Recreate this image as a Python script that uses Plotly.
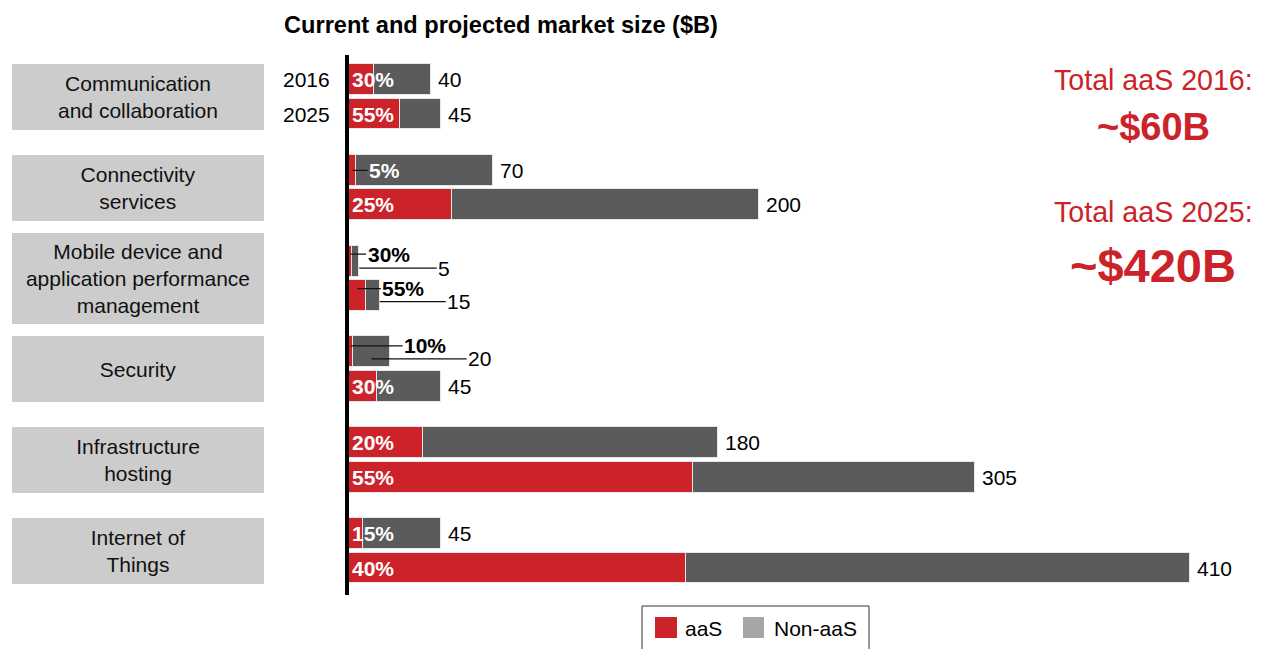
import plotly.graph_objects as go

# ---------------- data ----------------
categories = [
    "Communication<br>and collaboration",
    "Connectivity<br>services",
    "Mobile device and<br>application performance<br>management",
    "Security",
    "Infrastructure<br>hosting",
    "Internet of<br>Things",
]
years = ["2016", "2025"]
total_2016 = [40, 70, 5, 20, 180, 45]
total_2025 = [45, 200, 15, 45, 305, 410]
aas_pct_2016 = [30, 5, 30, 10, 20, 15]
aas_pct_2025 = [55, 25, 55, 30, 55, 40]
legend_labels = ["aaS", "Non-aaS"]
title_text = "Current and projected market size ($B)"
summary_texts = ["Total aaS 2016:", "~$60B", "Total aaS 2025:", "~$420B"]

# ---------------- style / layout ----------------
RED = "#cc2229"
DARK = "#5b5b5b"
LIGHT = "#a6a6a6"
BOX = "#cccccc"
FONT = "Arial, 'Liberation Sans', Helvetica, sans-serif"

W_FIG, H_FIG = 1267, 649
L, R, T, B = 349, 1262, 55, 595
PW, PH = R - L, B - T
XMAX = PW / 2.052
Y_TOP, Y_BOT = -0.270, 5.677
PAIR = 0.38
BAR_W = 0.34


def px(x):
    return (x - L) / PW


def py(y):
    return (B - y) / PH


aas16 = [t * p / 100 for t, p in zip(total_2016, aas_pct_2016)]
aas25 = [t * p / 100 for t, p in zip(total_2025, aas_pct_2025)]
non16 = [t - a for t, a in zip(total_2016, aas16)]
non25 = [t - a for t, a in zip(total_2025, aas25)]

n = len(categories)
pos16 = [float(g) for g in range(n)]
pos25 = [g + PAIR for g in range(n)]

fig = go.Figure()
fig.add_trace(go.Bar(
    x=aas16 + aas25, y=pos16 + pos25, orientation="h", width=BAR_W,
    marker=dict(color=RED, line=dict(color="#e6e6e6", width=1)),
    name=legend_labels[0], showlegend=False, hoverinfo="x",
))
fig.add_trace(go.Bar(
    x=non16 + non25, y=pos16 + pos25, orientation="h", width=BAR_W,
    marker=dict(color=DARK, line=dict(color="#e6e6e6", width=1)),
    name=legend_labels[1], showlegend=False, hoverinfo="x",
))

ann = []
shapes = []

# title
ann.append(dict(text="<b>" + title_text + "</b>", xref="paper", yref="paper",
                x=px(282), y=py(25), xanchor="left", yanchor="middle",
                showarrow=False, font=dict(size=23.6, color="#000", family=FONT)))

# category boxes
for g, cat in enumerate(categories):
    lines = cat.count("<br>") + 1
    h = 91 if lines >= 3 else 66
    ann.append(dict(text=cat, xref="paper", yref="y", x=px(138), y=g + PAIR / 2,
                    xanchor="center", yanchor="middle", showarrow=False,
                    width=252, height=h, bgcolor=BOX, borderpad=0, borderwidth=0,
                    align="center", valign="middle",
                    font=dict(size=21, color="#111", family=FONT)))

# year labels (first group only)
for yr, yy in zip(years, [pos16[0], pos25[0]]):
    ann.append(dict(text=yr, xref="paper", yref="y", x=px(332), y=yy,
                    xanchor="right", yanchor="middle", showarrow=False,
                    font=dict(size=21, color="#000", family=FONT)))

# percent labels (ys: positive = up)
pct_special = {
    (1, 0): dict(color="white", ax=32, ys=0),
    (2, 0): dict(color="black", ax=38, ys=7),
    (2, 1): dict(color="black", ax=46, ys=7),
    (3, 0): dict(color="black", ax=74, ys=6),
}
tot_special = {
    (2, 0): dict(ax=85, ys=-7, frac=1.0),
    (2, 1): dict(ax=79, ys=-6, frac=1.0),
    (3, 0): dict(ax=108, ys=-7, frac=0.55),
}
for yi, (pcts, aas, tots, poss) in enumerate([
        (aas_pct_2016, aas16, total_2016, pos16),
        (aas_pct_2025, aas25, total_2025, pos25)]):
    for g in range(n):
        txt = "<b>%d%%</b>" % pcts[g]
        sp = pct_special.get((g, yi))
        if sp is None:
            ann.append(dict(text=txt, xref="x", yref="y", x=0, y=poss[g],
                            xanchor="left", yanchor="middle", xshift=1,
                            showarrow=False,
                            font=dict(size=21, color="white", family=FONT)))
        else:
            ann.append(dict(text=txt, xref="x", yref="y", x=aas[g] / 2, y=poss[g],
                            yshift=sp["ys"], ax=sp["ax"], ay=0,
                            axref="pixel", ayref="pixel",
                            showarrow=True, arrowhead=0, arrowwidth=1.2,
                            arrowcolor="#111",
                            font=dict(size=21, color=sp["color"], family=FONT)))
        st = tot_special.get((g, yi))
        if st is None:
            ann.append(dict(text=str(tots[g]), xref="x", yref="y", x=tots[g], y=poss[g],
                            xanchor="left", yanchor="middle", xshift=5,
                            showarrow=False,
                            font=dict(size=21, color="#000", family=FONT)))
        else:
            ann.append(dict(text=str(tots[g]), xref="x", yref="y",
                            x=tots[g] * st["frac"], y=poss[g],
                            yshift=st["ys"], ax=st["ax"], ay=0,
                            axref="pixel", ayref="pixel",
                            showarrow=True, arrowhead=0, arrowwidth=1.2,
                            arrowcolor="#111",
                            font=dict(size=21, color="#000", family=FONT)))

# right-hand summary
sum_y = [80, 127, 212, 265]
sum_fmt = [("", 28.6), ("b", 38), ("", 28.6), ("b", 47)]
for t, yy, (b, s) in zip(summary_texts, sum_y, sum_fmt):
    tt = "<b>%s</b>" % t if b else t
    ann.append(dict(text=tt, xref="paper", yref="paper", x=px(1153), y=py(yy),
                    xanchor="center", yanchor="middle", showarrow=False,
                    font=dict(size=s, color=RED, family=FONT)))

# manual legend
shapes.append(dict(type="rect", xref="paper", yref="paper",
                   x0=px(642), x1=px(869), y0=py(606), y1=py(665),
                   line=dict(color="#333", width=1), fillcolor="white"))
for (x0, x1), col, lab, tx in [((655, 677), RED, legend_labels[0], 683),
                               ((743, 764), LIGHT, legend_labels[1], 772)]:
    shapes.append(dict(type="rect", xref="paper", yref="paper",
                       x0=px(x0), x1=px(x1), y0=py(617), y1=py(638),
                       line=dict(width=0), fillcolor=col))
    ann.append(dict(text=lab, xref="paper", yref="paper", x=px(tx), y=py(628),
                    xanchor="left", yanchor="middle", showarrow=False,
                    font=dict(size=21, color="#000", family=FONT)))

fig.update_layout(
    width=W_FIG, height=H_FIG,
    margin=dict(l=L, r=W_FIG - R, t=T, b=H_FIG - B),
    paper_bgcolor="white", plot_bgcolor="white",
    barmode="stack", bargap=0,
    xaxis=dict(range=[0, XMAX], visible=False, zeroline=False, showgrid=False),
    yaxis=dict(range=[Y_BOT, Y_TOP], showline=True, linecolor="black", linewidth=4,
               showticklabels=False, ticks="", showgrid=False, zeroline=False),
    annotations=ann, shapes=shapes,
    font=dict(family=FONT),
)

fig.write_html("out.html")
